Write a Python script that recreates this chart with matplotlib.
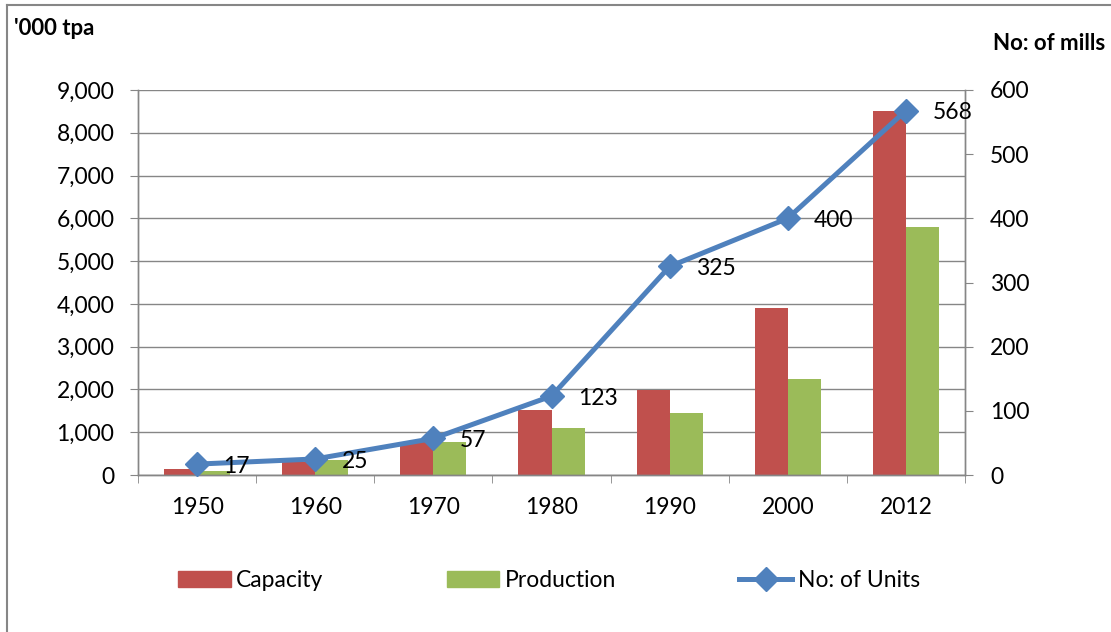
import matplotlib
matplotlib.use("Agg")
import matplotlib.pyplot as plt
from matplotlib.lines import Line2D
from matplotlib.patches import Patch
import numpy as np

plt.rcParams['font.family'] = ['Lato', 'DejaVu Sans']

years = ["1950", "1960", "1970", "1980", "1990", "2000", "2012"]
capacity = [130, 300, 770, 1530, 1990, 3900, 8500]
production = [100, 350, 760, 1100, 1450, 2240, 5800]
units = [17, 25, 57, 123, 325, 400, 568]

RED = "#C0504D"
GREEN = "#9BBB59"
BLUE = "#4F81BD"
GRID = "#868686"
FS = 16.5

fig = plt.figure(figsize=(11.11, 6.32), dpi=100)

# frame lines along the left and top edges of the chart area
fig.add_artist(Line2D([6.5 / 1111, 6.5 / 1111], [0, 1 - 4.5 / 632],
                      transform=fig.transFigure, color=GRID, linewidth=1.5))
fig.add_artist(Line2D([6.5 / 1111, 1], [1 - 4.5 / 632, 1 - 4.5 / 632],
                      transform=fig.transFigure, color=GRID, linewidth=1.5))

ax = fig.add_axes([0.1242, 0.2484, 0.7444, 0.6092])
ax2 = ax.twinx()

x = np.arange(len(years))
w = 0.28
ax.bar(x - w / 2, capacity, width=w, color=RED, zorder=2)
ax.bar(x + w / 2, production, width=w, color=GREEN, zorder=2)

ax.set_xlim(-0.5, len(years) - 0.5)
ax.set_ylim(0, 9000)
ax.set_yticks(np.arange(0, 9001, 1000))
ax.set_yticklabels([f"{v:,}" for v in range(0, 9001, 1000)])
ax.yaxis.grid(True, color=GRID, linewidth=1)
ax.set_axisbelow(True)

ax.set_xticks(x)
ax.set_xticklabels(years)
ax.set_xticks(np.arange(-0.5, len(years)), minor=True)
ax.tick_params(axis='x', which='major', length=0, pad=16, labelsize=FS)
ax.tick_params(axis='x', which='minor', length=6, color=GRID, direction='out')
ax.tick_params(axis='y', length=6, color=GRID, labelsize=FS, pad=11)

for a in (ax, ax2):
    a.spines['top'].set_visible(False)
    for s in ('left', 'right', 'bottom'):
        a.spines[s].set_color(GRID)
        a.spines[s].set_linewidth(1)

ax2.plot(x, units, color=BLUE, linewidth=3.6, marker='D', markersize=12,
         markerfacecolor=BLUE, markeredgecolor=BLUE, zorder=5, clip_on=False)
ax2.set_ylim(0, 600)
ax2.set_yticks(np.arange(0, 601, 100))
ax2.tick_params(axis='y', length=6, color=GRID, labelsize=FS, pad=12)

for xi, u in zip(x, units):
    ax2.annotate(str(u), (xi, u), xytext=(19, -1.5), textcoords='offset points',
                 ha='left', va='center', fontsize=FS, color='black', zorder=6)

fig.text(0.013, 0.955, "'000 tpa", fontsize=16, fontweight='bold', ha='left', va='center')
fig.text(0.995, 0.931, "No: of mills", fontsize=16, fontweight='bold', ha='right', va='center')

handles = [Patch(color=RED, label='Capacity'),
           Patch(color=GREEN, label='Production'),
           Line2D([0], [0], color=BLUE, linewidth=3.6, marker='D', markersize=12,
                  label='No: of Units')]
fig.legend(handles=handles, loc='center', bbox_to_anchor=(0.4941, 0.082), ncol=3,
           frameon=False, fontsize=FS, columnspacing=5.37, handlelength=2.3,
           handletextpad=0.25)

fig.savefig("out.png", dpi=100)
